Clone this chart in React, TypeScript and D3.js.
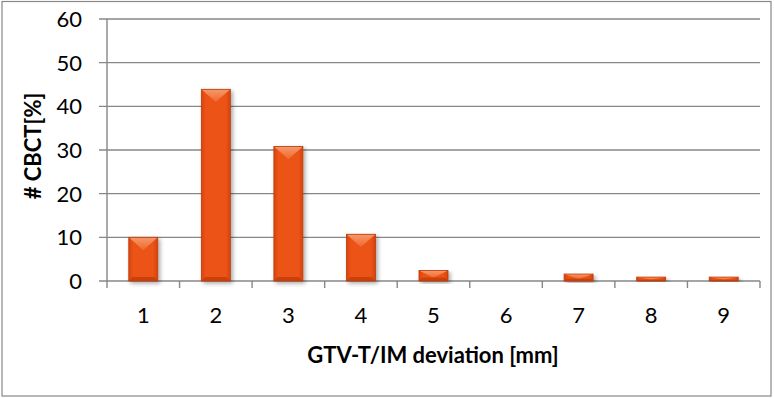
import React from "react";
import * as d3 from "d3";

const categories = ["1", "2", "3", "4", "5", "6", "7", "8", "9"];
const values = [10, 43.9, 30.8, 10.7, 2.4, 0, 1.6, 0.9, 0.9];
const yTicks = [0, 10, 20, 30, 40, 50, 60];
const yTitle = "# CBCT[%]";
const xTitle = "GTV-T/IM deviation [mm]";

const W = 774;
const H = 398;
const left = 107;
const right = 760;
const top = 19;
const bottom = 281;
const FONT = "Lato, 'Open Sans', sans-serif";

export default function App() {
  const x = d3.scaleBand<string>().domain(categories).range([left, right]).paddingInner(0).paddingOuter(0);
  const y = d3.scaleLinear().domain([0, 60]).range([bottom, top]);
  const bw = 29;
  const grid = "#878787";

  return (
    <svg width={W} height={H} style={{ position: "absolute", left: 0, top: 0 }}>
      <defs>
        <linearGradient id="barH" x1="0" x2="1" y1="0" y2="0">
          <stop offset="0" stopColor="#d94510" />
          <stop offset="0.15" stopColor="#ec5213" />
          <stop offset="0.85" stopColor="#ec5213" />
          <stop offset="1" stopColor="#d44310" />
        </linearGradient>
        <linearGradient id="topBev" x1="0" x2="0" y1="0" y2="1">
          <stop offset="0" stopColor="#f7a176" />
          <stop offset="1" stopColor="#f06a2e" />
        </linearGradient>
        <filter id="shadow" x="-30%" y="-10%" width="160%" height="130%">
          <feGaussianBlur in="SourceAlpha" stdDeviation="2" />
          <feOffset dx="2" dy="2" result="b" />
          <feComponentTransfer>
            <feFuncA type="linear" slope="0.35" />
          </feComponentTransfer>
          <feMerge>
            <feMergeNode />
            <feMergeNode in="SourceGraphic" />
          </feMerge>
        </filter>
      </defs>
      <rect x={2} y={1.5} width={769} height={394.5} fill="#fff" stroke="#888" strokeWidth={1.2} />
      {yTicks.map((t) => (
        <g key={t}>
          <line x1={left - 8} x2={right} y1={y(t)} y2={y(t)} stroke={grid} strokeWidth={1.4} />
          <text x={82} y={y(t)} dy="0.36em" textAnchor="end" fontFamily={FONT} fontSize={22} fill="#000">
            {t}
          </text>
        </g>
      ))}
      <line x1={left} x2={left} y1={top} y2={bottom} stroke={grid} strokeWidth={1.4} />
      {categories.map((c, i) => (
        <line key={"t" + i} x1={(x(c) as number) + x.bandwidth()} x2={(x(c) as number) + x.bandwidth()} y1={bottom} y2={bottom + 7} stroke={grid} strokeWidth={1.4} />
      ))}
      <line x1={left} x2={left} y1={bottom} y2={bottom + 7} stroke={grid} strokeWidth={1.4} />
      {categories.map((c, i) => {
        const v = values[i];
        if (v <= 0) return null;
        const cx = (x(c) as number) + x.bandwidth() / 2;
        const x0 = cx - bw / 2;
        const y0 = y(v);
        const h = bottom - y0;
        const b = Math.min(8, h / 2.2);
        const bb = Math.min(4, h / 3);
        return (
          <g key={c} filter="url(#shadow)">
            <rect x={x0} y={y0} width={bw} height={h} fill="url(#barH)" />
            <polygon
              points={`${x0},${y0} ${x0 + bw},${y0} ${cx},${y0 + Math.min(b * 1.6, h * 0.7)}`}
              fill="url(#topBev)"
              opacity={0.9}
            />
            <polygon
              points={`${x0},${bottom} ${x0 + bw},${bottom} ${x0 + bw - bb},${bottom - bb} ${x0 + bb},${bottom - bb}`}
              fill="#c23c0c"
              opacity={0.8}
            />
            <rect x={x0} y={y0} width={bw} height={h} fill="none" stroke="#b93a0c" strokeWidth={0.8} />
          </g>
        );
      })}
      {categories.map((c) => (
        <text key={"l" + c} x={(x(c) as number) + x.bandwidth() / 2} y={323} textAnchor="middle" fontFamily={FONT} fontSize={22} fill="#000">
          {c}
        </text>
      ))}
      <text x={433} y={363} textAnchor="middle" fontFamily={FONT} fontWeight="bold" fontSize={22} fill="#000">
        {xTitle}
      </text>
      <text
        transform={`translate(41,${146}) rotate(-90)`}
        textAnchor="middle"
        fontFamily={FONT}
        fontWeight="bold"
        fontSize={22}
        fill="#000"
      >
        {yTitle}
      </text>
    </svg>
  );
}
